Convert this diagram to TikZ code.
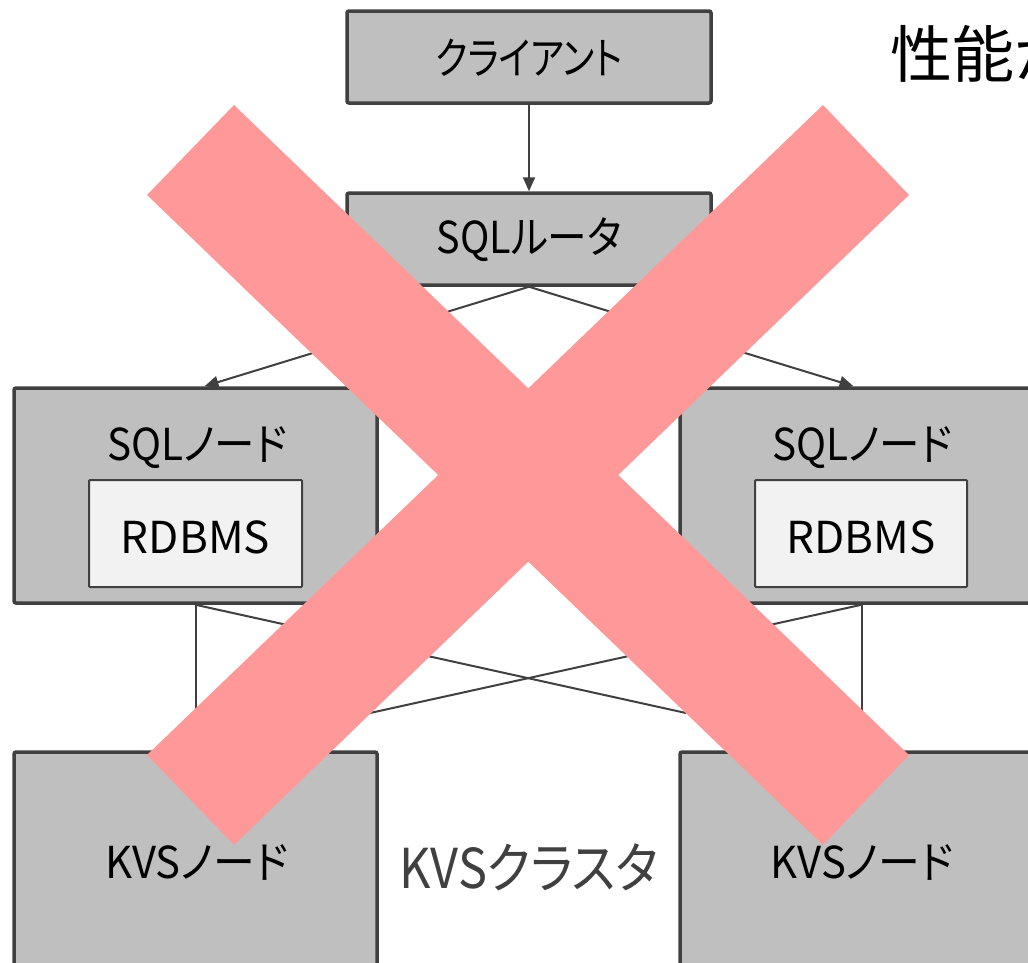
\documentclass[tikz,border=0pt]{standalone}
\usepackage{fontspec}
\usepackage{graphicx}
\setmainfont[RawFeature=+palt]{Noto Sans CJK JP}
\usetikzlibrary{arrows.meta}
\definecolor{boxgray}{HTML}{BFBFBF}
\definecolor{edgec}{HTML}{404040}
\definecolor{innerc}{HTML}{F2F2F2}
\definecolor{xpink}{HTML}{FF9999}
\tikzset{
  box/.style={draw=edgec, fill=boxgray, line width=3.5pt, rounded corners=2pt, inner sep=0pt},
  innerbox/.style={draw=edgec, fill=innerc, line width=2pt, rounded corners=1pt, inner sep=0pt},
  lbl/.style={inner sep=0pt, text=black, font=\fontsize{44pt}{50pt}\selectfont},
  conn/.style={draw=edgec, line width=2pt},
  tip/.style={-{Triangle[length=14pt,width=12pt]}},
}
\begin{document}
\begin{tikzpicture}[x=1pt,y=-1pt]
\useasboundingbox (0,0) rectangle (1028,962);
\clip (0,0) rectangle (1028,962);
% boxes
\node[box, minimum width=364pt, minimum height=92pt] (client) at (529,57) {};
\node[lbl] (clienttxt) at (529,58) {\scalebox{0.82}[1]{クライアント}};
\node[box, minimum width=364pt, minimum height=92pt] (router) at (529,239) {};
\node[lbl] (routertxt) at (529,240) {\scalebox{0.9}[1]{SQLルータ}};
\node[box, minimum width=363pt, minimum height=215pt] (lsql) at (195.5,495.5) {};
\node[box, minimum width=363pt, minimum height=215pt] (rsql) at (861.5,495.5) {};
\node[lbl] (lsqltxt) at (197,448) {\scalebox{0.92}[1]{SQLノード}};
\node[lbl] (rsqltxt) at (862,448) {\scalebox{0.92}[1]{SQLノード}};
\node[innerbox, minimum width=213pt, minimum height=107pt] (lrdb) at (195.5,533.5) {};
\node[innerbox, minimum width=212pt, minimum height=107pt] (rrdb) at (861,533.5) {};
\node[lbl] (lrdbtxt) at (195.5,537) {RDBMS};
\node[lbl] (rrdbtxt) at (861,537) {RDBMS};
\node[box, minimum width=363pt, minimum height=238pt] (lkvs) at (195.5,871) {};
\node[box, minimum width=363pt, minimum height=238pt] (rkvs) at (861.5,871) {};
\node[lbl] (lkvstxt) at (197,862) {\scalebox{0.95}[1]{KVSノード}};
\node[lbl] (rkvstxt) at (862,862) {\scalebox{0.95}[1]{KVSノード}};
\node[inner sep=0pt, text=edgec, font=\fontsize{55pt}{60pt}\selectfont] (cluster) at (529,867) {\scalebox{0.885}[1]{KVSクラスタ}};
% top right text
\node[anchor=west, inner sep=0pt, font=\fontsize{62pt}{70pt}\selectfont] (toptxt) at (890,54) {性能が};
% connectors
\draw[conn, tip] (client.south) -- (router.north);
\draw[conn, tip] (router.south) -- ([xshift=9pt]lsql.north);
\draw[conn, tip] (router.south) -- ([xshift=-8pt]rsql.north);
\coordinate (la) at (195.5,713);
\coordinate (lb) at (686,713);
\coordinate (ra) at (370,713);
\coordinate (rb) at (861.5,713);
\draw[conn] (lsql.south) -- (la);
\draw[conn] (lsql.south) -- (lb);
\draw[conn] (rsql.south) -- (ra);
\draw[conn] (rsql.south) -- (rb);
% big X
\fill[xpink] (234,105) -- (909,755) -- (823,845) -- (147,195) -- cycle;
\fill[xpink] (823,105) -- (909,195) -- (234,845) -- (147,755) -- cycle;
\end{tikzpicture}
\end{document}
